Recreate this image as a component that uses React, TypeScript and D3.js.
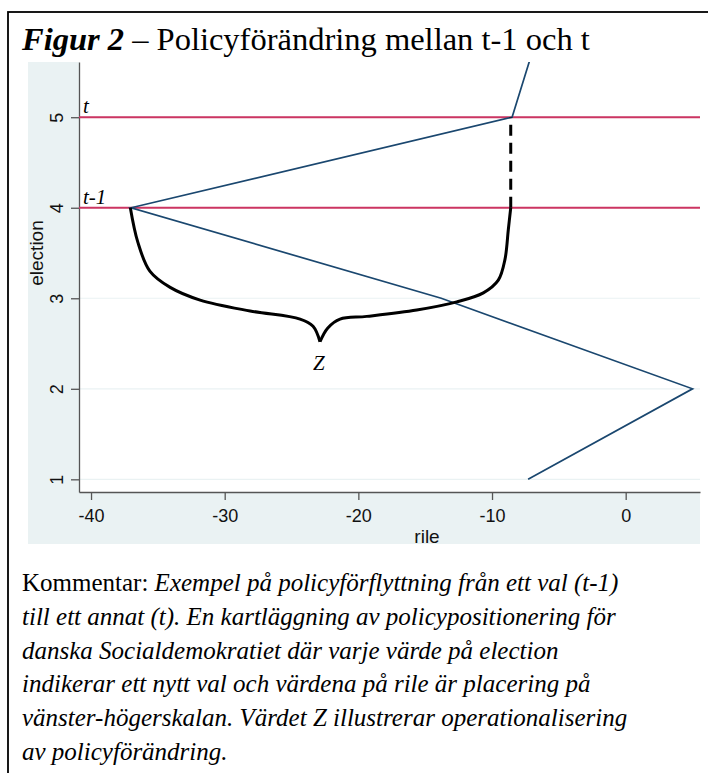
import React, { useEffect, useRef } from 'react';
import * as d3 from 'd3';

// party positions per election (rile, left-right scale)
const elections = [1, 2, 3, 4, 5, 6];
const rileValues = [-7.3, 5.0, -13.8, -37.0, -8.5, -6.4];

const xTicks = [-40, -30, -20, -10, 0];
const yTicks = [1, 2, 3, 4, 5];

// the two elections compared
const markedElections = [5, 4];
const markedLabels = ['t', 't-1'];

// curly brace (Z) drawn in data units, split at the tip
const braceLeftRile = [-37.06, -36.5, -35.6, -34.08, -31.84, -28.1, -24.36, -23.39, -22.87];
const braceLeftElection = [4.0, 3.62, 3.3, 3.12, 2.98, 2.86, 2.77, 2.69, 2.52];
const braceRightRile = [-22.87, -22.3, -21.37, -19.37, -15.63, -12.64, -10.65, -9.53, -9.03, -8.78, -8.6];
const braceRightElection = [2.52, 2.67, 2.77, 2.8, 2.87, 2.96, 3.06, 3.2, 3.43, 3.76, 4.0];

const titleBold = 'Figur 2';
const titleRest = ' – Policyförändring mellan t-1 och t';

const commentLines: { regular: string; italic: string }[] = [
  { regular: 'Kommentar: ', italic: 'Exempel på policyförflyttning från ett val (t-1)' },
  { regular: '', italic: 'till ett annat (t). En kartläggning av policypositionering för' },
  { regular: '', italic: 'danska Socialdemokratiet där varje värde på election' },
  { regular: '', italic: 'indikerar ett nytt val och värdena på rile är placering på' },
  { regular: '', italic: 'vänster-högerskalan. Värdet Z illustrerar operationalisering' },
  { regular: '', italic: 'av policyförändring.' },
];

const SERIF = '"Liberation Serif", "Times New Roman", Times, serif';
const SANS = '"Liberation Sans", Arial, sans-serif';

export default function App() {
  const svgRef = useRef<SVGSVGElement>(null);

  useEffect(() => {
    if (!svgRef.current) return;
    const svg = d3.select(svgRef.current);
    svg.selectAll('*').remove();

    const W = 708;
    const H = 773;
    svg.attr('width', W).attr('height', H);

    // outer frame (right/bottom edges fall outside the picture)
    svg.append('rect')
      .attr('x', 8).attr('y', 12)
      .attr('width', 760).attr('height', 800)
      .attr('fill', '#fff').attr('stroke', '#000').attr('stroke-width', 1.8);

    // title
    const title = svg.append('text')
      .attr('x', 22).attr('y', 50)
      .attr('font-family', SERIF).attr('font-size', 32.5).attr('fill', '#000');
    title.append('tspan').attr('font-weight', 'bold').attr('font-style', 'italic').text(titleBold);
    title.append('tspan').text(titleRest);

    // graph region
    const panel = { left: 28, top: 62, right: 700, bottom: 544 };
    svg.append('rect')
      .attr('x', panel.left).attr('y', panel.top)
      .attr('width', panel.right - panel.left).attr('height', panel.bottom - panel.top)
      .attr('fill', '#eaf2f3');

    const plot = { left: 79, top: 62, right: 700, bottom: 492 };
    svg.append('rect')
      .attr('x', plot.left).attr('y', plot.top)
      .attr('width', plot.right - plot.left).attr('height', plot.bottom - plot.top)
      .attr('fill', '#fff');

    const x = d3.scaleLinear().domain([-40.9, 5.56]).range([plot.left, plot.right]);
    const y = d3.scaleLinear().domain([0.86, 5.61]).range([plot.bottom, plot.top]);

    svg.append('clipPath').attr('id', 'plotclip')
      .append('rect')
      .attr('x', plot.left).attr('y', plot.top)
      .attr('width', plot.right - plot.left).attr('height', plot.bottom - plot.top);

    // grid
    svg.append('g')
      .selectAll('line')
      .data(yTicks)
      .enter()
      .append('line')
      .attr('x1', plot.left).attr('x2', plot.right)
      .attr('y1', d => y(d)).attr('y2', d => y(d))
      .attr('stroke', '#eaf2f3').attr('stroke-width', 1.2);

    // axes
    const fmt = (d: d3.NumberValue) => String(d);
    const xAxis = svg.append('g')
      .attr('transform', `translate(0,${plot.bottom})`)
      .call(d3.axisBottom(x).tickValues(xTicks).tickFormat(fmt).tickSize(8).tickSizeOuter(0));
    xAxis.attr('font-family', SANS).attr('font-size', 18);
    xAxis.select('.domain').attr('stroke', '#555').attr('stroke-width', 1.3);
    xAxis.selectAll('.tick line').attr('stroke', '#555').attr('stroke-width', 1.3);
    xAxis.selectAll('.tick text').attr('fill', '#111').attr('y', 30).attr('dy', 0);

    const yAxis = svg.append('g')
      .attr('transform', `translate(${plot.left},0)`)
      .call(d3.axisLeft(y).tickValues(yTicks).tickFormat(fmt).tickSize(8).tickSizeOuter(0));
    yAxis.attr('font-family', SANS).attr('font-size', 18);
    yAxis.select('.domain').attr('stroke', '#555').attr('stroke-width', 1.3);
    yAxis.selectAll('.tick line').attr('stroke', '#555').attr('stroke-width', 1.3);
    yAxis.selectAll('.tick text')
      .attr('fill', '#111')
      .attr('x', 0).attr('y', -16).attr('dy', 0)
      .attr('text-anchor', 'middle')
      .attr('transform', 'rotate(-90)');

    svg.append('text')
      .attr('x', 427).attr('y', 543)
      .attr('text-anchor', 'middle')
      .attr('font-family', SANS).attr('font-size', 19).attr('fill', '#111')
      .text('rile');

    svg.append('text')
      .attr('transform', 'translate(43,253) rotate(-90)')
      .attr('text-anchor', 'middle')
      .attr('font-family', SANS).attr('font-size', 19).attr('fill', '#111')
      .text('election');

    const plotG = svg.append('g').attr('clip-path', 'url(#plotclip)');

    // t and t-1 reference lines
    plotG.selectAll('.ref')
      .data(markedElections)
      .enter()
      .append('line')
      .attr('class', 'ref')
      .attr('x1', plot.left).attr('x2', plot.right)
      .attr('y1', d => y(d)).attr('y2', d => y(d))
      .attr('stroke', '#cc3562').attr('stroke-width', 2);

    svg.selectAll('.reflabel')
      .data(markedElections)
      .enter()
      .append('text')
      .attr('class', 'reflabel')
      .attr('x', plot.left + 4)
      .attr('y', d => y(d) - 4)
      .attr('font-family', SERIF).attr('font-style', 'italic').attr('font-size', 21)
      .attr('fill', '#000')
      .text((_d, i) => markedLabels[i]);

    // party path
    const pts = elections.map((e, i) => [rileValues[i], e] as [number, number]);
    const line = d3.line<[number, number]>().x(d => x(d[0])).y(d => y(d[1]));
    plotG.append('path')
      .datum(pts)
      .attr('d', line)
      .attr('fill', 'none')
      .attr('stroke', '#1a476f')
      .attr('stroke-width', 1.7);

    // brace
    const braceLine = d3.line<[number, number]>()
      .x(d => x(d[0])).y(d => y(d[1]))
      .curve(d3.curveCatmullRom.alpha(0.5));
    const left = braceLeftRile.map((r, i) => [r, braceLeftElection[i]] as [number, number]);
    const right = braceRightRile.map((r, i) => [r, braceRightElection[i]] as [number, number]);
    [left, right].forEach(p => {
      plotG.append('path')
        .datum(p)
        .attr('d', braceLine)
        .attr('fill', 'none')
        .attr('stroke', '#000')
        .attr('stroke-width', 3)
        .attr('stroke-linejoin', 'round');
    });

    // dashed link from t-1 to t
    plotG.append('path')
      .datum([[-8.6, 4.0], [-8.6, 5.0]] as [number, number][])
      .attr('d', line)
      .attr('fill', 'none')
      .attr('stroke', '#000')
      .attr('stroke-width', 3)
      .attr('stroke-dasharray', '11,7');

    svg.append('text')
      .attr('x', x(-22.95)).attr('y', 370)
      .attr('text-anchor', 'middle')
      .attr('font-family', SERIF).attr('font-style', 'italic').attr('font-size', 21)
      .attr('fill', '#000')
      .text('Z');

    // comment
    const cm = svg.append('g').attr('font-family', SERIF).attr('font-size', 25).attr('fill', '#000');
    commentLines.forEach((ln, i) => {
      const t = cm.append('text').attr('x', 22).attr('y', 591 + i * 33.8);
      if (ln.regular) t.append('tspan').text(ln.regular);
      t.append('tspan').attr('font-style', 'italic').text(ln.italic);
    });
  }, []);

  return (
    <svg
      ref={svgRef}
      style={{ position: 'absolute', left: 0, top: 0, display: 'block' }}
    />
  );
}
